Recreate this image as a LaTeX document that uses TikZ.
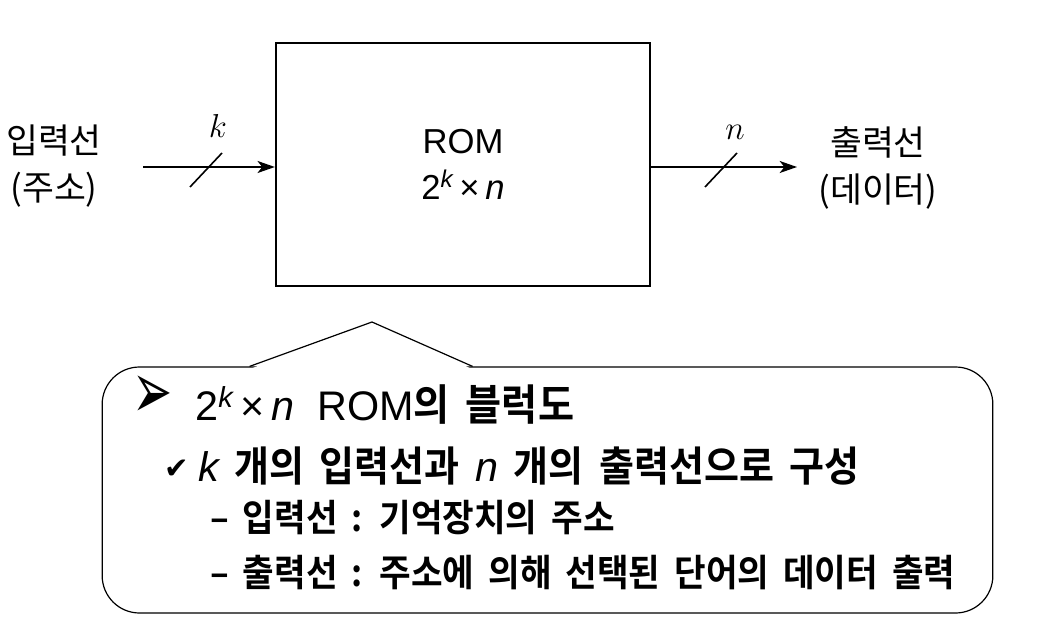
\documentclass[tikz,border=0pt]{standalone}
\usepackage{fontspec}
\setmainfont{Liberation Sans}
\newfontfamily\krfont{Noto Sans CJK KR}
\newfontfamily\krbold[FakeStretch=0.92,WordSpace=1.8]{Noto Sans CJK KR Bold}
\newfontfamily\symfont{DejaVu Sans}
\usetikzlibrary{arrows.meta,positioning,calc}

\begin{document}
\begin{tikzpicture}[
    x=0.75pt, y=-0.75pt,
    >={Stealth[length=13pt,width=9pt,inset=3.5pt]},
    rombox/.style={draw, line width=1.7pt, minimum width=280.5pt, minimum height=182pt, align=center},
    sidelabel/.style={font=\krfont\fontsize{26}{35}\selectfont, align=center, inner sep=0pt},
    buslabel/.style={font=\fontsize{32}{34}\selectfont, inner sep=0pt, anchor=base},
    busline/.style={->, line width=1.4pt},
    slash/.style={line width=1.2pt},
    note/.style={draw, line width=0.9pt, rounded corners=28pt, minimum width=668pt, minimum height=184.5pt},
    noteline/.style={anchor=base west, inner sep=0pt}
]
\useasboundingbox (0,0) rectangle (1064,624);

% ROM block with its address and data buses
\node[rombox, font=\fontsize{26}{35}\selectfont] (rom) at (463,164.5) {ROM\\2\textsuperscript{\itshape k}\,×\,{\itshape n}};

\node[sidelabel] (inlabel) at (54,166) {입력선\\(주소)};
\node[sidelabel] (outlabel) at (878,168) {출력선\\(데이터)};

\coordinate (inbeg) at (143,167);
\coordinate (outend) at (797,167);
\draw[busline] (inbeg) -- (inbeg -| rom.west);
\draw[busline] (outend -| rom.east) -- (outend);

\coordinate (kcut) at (206,170);
\coordinate (ncut) at (721,170);
\draw[slash] ($(kcut)+(-16,17)$) -- ($(kcut)+(16,-17)$);
\draw[slash] ($(ncut)+(-16,17)$) -- ($(ncut)+(16,-17)$);
\node[buslabel] (klabel) at (218,138) {$k$};
\node[buslabel] (nlabel) at (735,140) {$n$};

% callout note
\node[note] (memo) at (547.5,490) {};
\coordinate (tip) at (372,322);
\coordinate (baseL) at ($(memo.north west)+(148,0)$);
\coordinate (baseR) at ($(memo.north west)+(371,0)$);
\fill[white] ($(baseL)+(2,2)$) -- (tip) -- ($(baseR)+(-2,2)$) -- cycle;
\draw[line width=0.9pt] (baseL) -- (tip) -- (baseR);

\node[noteline, font=\symfont\fontsize{50}{50}\selectfont] (arrowmark) at (132,418) {\scalebox{0.72}[1.2]{➢}};
\node[noteline, font=\fontsize{31}{31}\selectfont] (title) at (195,420) {2\textsuperscript{\itshape k}\,×\,{\itshape n}\ \ ROM{\krbold\fontsize{32}{32}\selectfont 의 블럭도}};
\node[noteline, font=\symfont\fontsize{22}{22}\selectfont] (checkmark) at (164,478) {✔};
\node[noteline, font=\krbold\fontsize{31}{31}\selectfont] (sumline) at (198,481) {{\rmfamily\itshape k} 개의 입력선과 {\rmfamily\itshape n} 개의 출력선으로 구성};
\node[noteline, font=\krbold\fontsize{28}{28}\selectfont] (addrline) at (210,531) {– 입력선 : 기억장치의 주소};
\node[noteline, font=\krbold\fontsize{28}{28}\selectfont] (dataline) at (210,586) {– 출력선 : 주소에 의해 선택된 단어의 데이터 출력};
\end{tikzpicture}
\end{document}
